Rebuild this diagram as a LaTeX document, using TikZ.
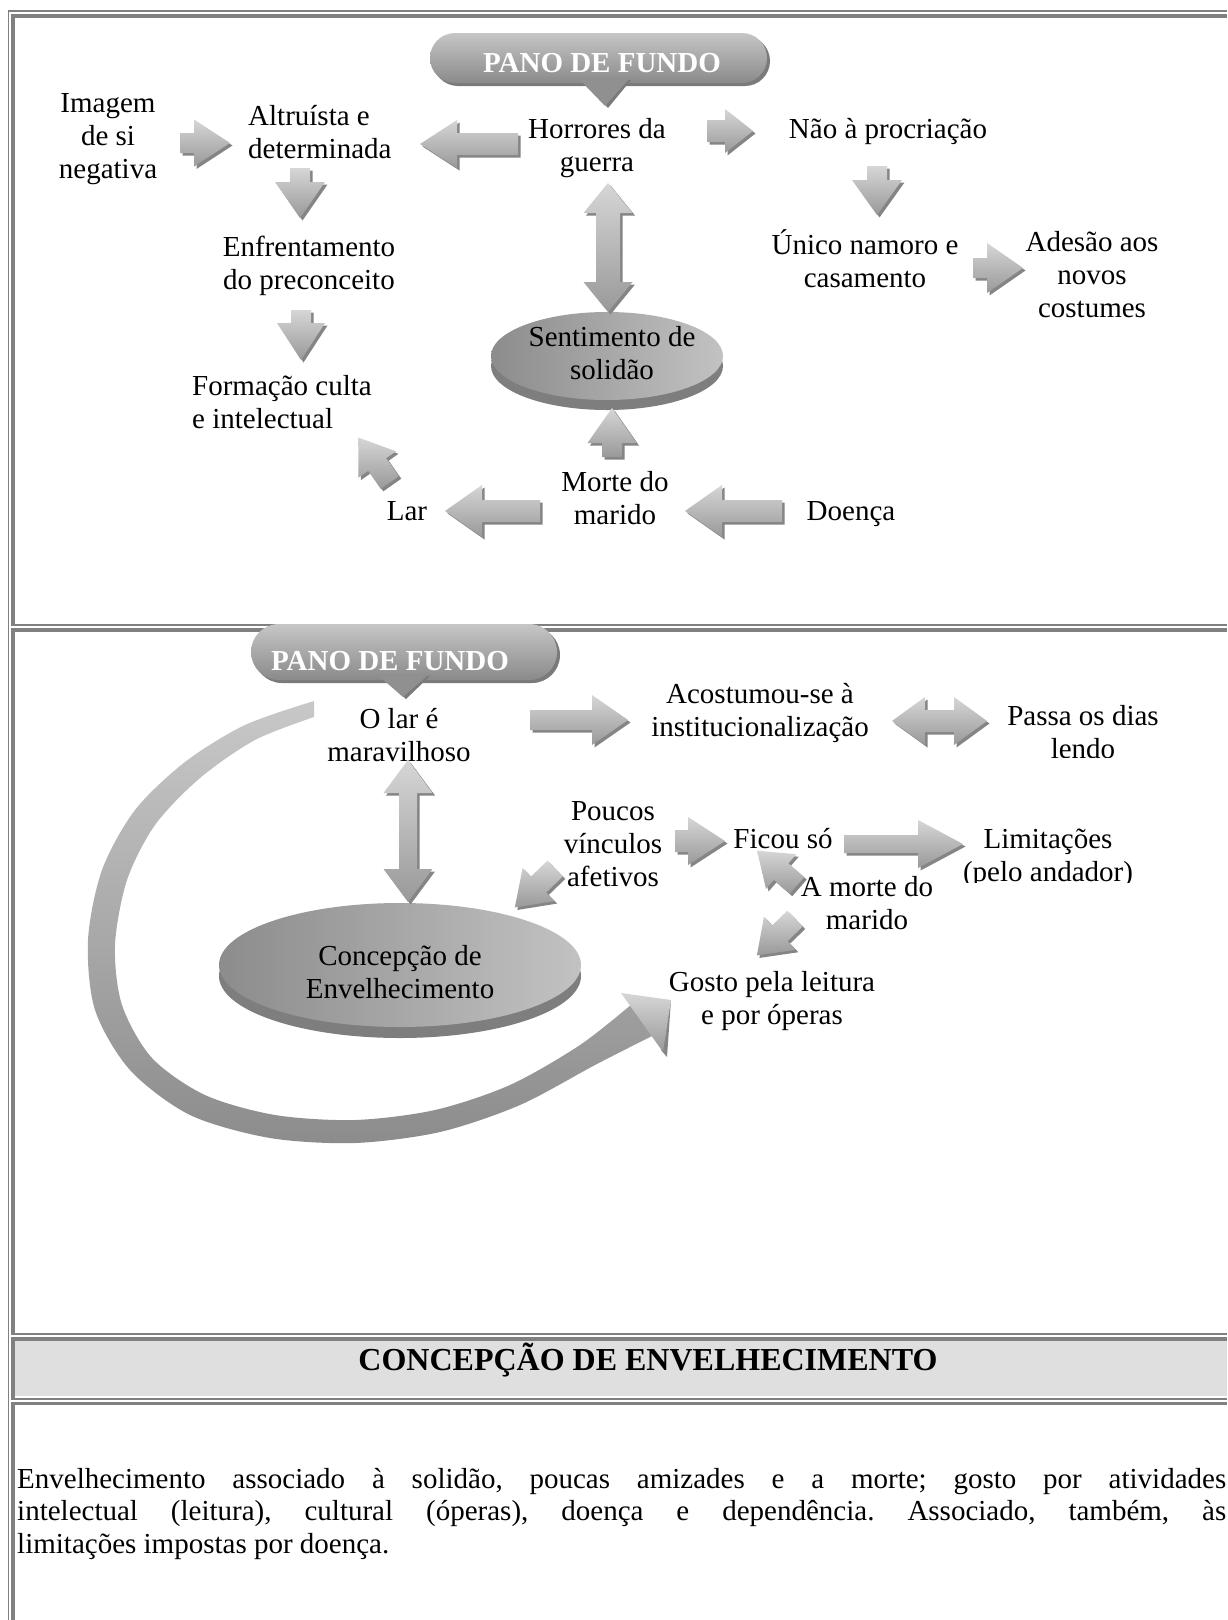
\documentclass[tikz,border=0pt]{standalone}
\usepackage{fontspec}
\setmainfont{Liberation Serif}
\usetikzlibrary{shapes.geometric,shapes.misc,shadows}

\definecolor{lineg}{HTML}{808080}
\definecolor{cellg}{HTML}{DFDFDF}
\definecolor{arrL}{HTML}{D6D6D6}
\definecolor{arrD}{HTML}{999999}
\definecolor{arrS}{HTML}{858585}
\definecolor{pillL}{HTML}{C6C6C6}
\definecolor{pillD}{HTML}{8A8A8A}
\definecolor{pillS}{HTML}{7A7A7A}
\definecolor{ellL}{HTML}{C2C2C2}
\definecolor{ellD}{HTML}{8C8C8C}
\definecolor{rimc}{HTML}{7E7E7E}

\tikzset{
  txt/.style={font=\fontsize{29}{33}\selectfont, align=center, inner sep=0pt,
    execute at begin node=\strut, execute at end node=\strut},
  panotxt/.style={font=\fontsize{29}{33}\selectfont\bfseries, text=white, anchor=base, inner sep=0pt},
  barfill/.style={top color=arrL, bottom color=arrD},
  pillshape/.style={rounded rectangle, inner sep=0pt, top color=pillL, bottom color=pillD,
    drop shadow={shadow xshift=3pt, shadow yshift=-3pt, fill=pillS, opacity=1}},
  ellshape/.style={ellipse, inner sep=0pt, left color=ellD, right color=ellL},
}

% block arrow: x, y, angle, length, head length, head width, shaft width
\newcommand\blkarrow[7]{%
  \fill[arrS, shift={(#1+2.5,#2+2.5)}, rotate=#3]
    ({-#4/2},{-#7/2}) -- ({#4/2-#5},{-#7/2}) -- ({#4/2-#5},{-#6/2}) -- ({#4/2},0)
    -- ({#4/2-#5},{#6/2}) -- ({#4/2-#5},{#7/2}) -- ({-#4/2},{#7/2}) -- cycle;
  \shade[barfill, shift={(#1,#2)}, rotate=#3]
    ({-#4/2},{-#7/2}) -- ({#4/2-#5},{-#7/2}) -- ({#4/2-#5},{-#6/2}) -- ({#4/2},0)
    -- ({#4/2-#5},{#6/2}) -- ({#4/2-#5},{#7/2}) -- ({-#4/2},{#7/2}) -- cycle;
}
\newcommand\dblarrow[7]{%
  \fill[arrS, shift={(#1+2.5,#2+2.5)}, rotate=#3]
    ({-#4/2},0) -- ({-#4/2+#5},{#6/2}) -- ({-#4/2+#5},{#7/2}) -- ({#4/2-#5},{#7/2})
    -- ({#4/2-#5},{#6/2}) -- ({#4/2},0) -- ({#4/2-#5},{-#6/2}) -- ({#4/2-#5},{-#7/2})
    -- ({-#4/2+#5},{-#7/2}) -- ({-#4/2+#5},{-#6/2}) -- cycle;
  \shade[barfill, shift={(#1,#2)}, rotate=#3]
    ({-#4/2},0) -- ({-#4/2+#5},{#6/2}) -- ({-#4/2+#5},{#7/2}) -- ({#4/2-#5},{#7/2})
    -- ({#4/2-#5},{#6/2}) -- ({#4/2},0) -- ({#4/2-#5},{-#6/2}) -- ({#4/2-#5},{-#7/2})
    -- ({-#4/2+#5},{-#7/2}) -- ({-#4/2+#5},{-#6/2}) -- cycle;
}

\begin{document}
\begin{tikzpicture}[x=1pt,y=-1pt]
\useasboundingbox (0,0) rectangle (1227,1620);
\fill[white] (0,0) rectangle (1227,1620);

% ---------- table borders ----------
\fill[lineg] (7.6,10.2) rectangle (9.4,1620);
\fill[lineg] (7.6,10.2) rectangle (1227,12);
% cell 1
\fill[lineg] (11.3,14) rectangle (1227,17.5);
\fill[lineg] (11.3,14) rectangle (15,625.5);
\fill[lineg] (15,623.8) rectangle (1227,625.5);
% cell 2
\fill[lineg] (11.3,628) rectangle (1227,631.5);
\fill[lineg] (11.3,628) rectangle (15,1334.5);
\fill[lineg] (15,1332.8) rectangle (1227,1334.5);
% cell 3 (header)
\fill[cellg] (15,1340.5) rectangle (1227,1395.5);
\fill[lineg] (11.3,1337.3) rectangle (1227,1340.7);
\fill[lineg] (11.3,1337.3) rectangle (15,1400);
\fill[lineg] (15,1398.3) rectangle (1227,1400);
% cell 4
\fill[lineg] (11.3,1401.5) rectangle (1227,1404.8);
\fill[lineg] (11.3,1401.5) rectangle (15,1620);

% ================= TOP SECTION =================
\node[pillshape, minimum width=337pt, minimum height=50pt] (pill1) at (598.5,58) {};
\fill[pillS] (583,80) -- (631,80) -- (608,108) -- cycle;
\fill[pillD!95!white] (580,80) -- (628,80) -- (605,106) -- cycle;
\node[panotxt] (pano1) at (602,72) {PANO DE FUNDO};

\fill[rimc] (607,366) ellipse [x radius=116, y radius=44];
\node[ellshape, minimum width=232pt, minimum height=88pt] (sentell) at (607,356) {};

\node[txt] (imagem) at (108,141.4) {Imagem\\de si\\negativa};
\node[txt, align=left, anchor=west] (altruista) at (248,137) {Altruísta e\\determinada};
\node[txt] (horrores) at (597,150) {Horrores da\\guerra};
\node[txt] (nao) at (888,131.4) {Não à procriação};
\node[txt] (unico) at (865,263) {Único namoro e\\casamento};
\node[txt] (adesao) at (1092,279.4) {Adesão aos\\novos\\costumes};
\node[txt] (enfrent) at (309,268) {Enfrentamento\\do preconceito};
\node[txt, align=left, anchor=west] (formacao) at (192,407) {Formação culta\\e intelectual};
\node[txt] (sentimento) at (612,358) {Sentimento de\\solidão};
\node[txt] (morte) at (615,503) {Morte do\\marido};
\node[txt] (lar) at (407,513.4) {Lar};
\node[txt] (doenca) at (851,513.4) {Doença};

\blkarrow{205}{143}{0}{50}{36}{47}{20}
\blkarrow{469}{144}{180}{98}{37}{48}{22}
\blkarrow{730}{131}{0}{46}{28}{44}{22}
\dblarrow{608}{247.5}{90}{129}{30}{49}{24}
\blkarrow{300}{193}{-90}{50}{36}{50}{20}
\blkarrow{301}{335}{-90}{50}{37}{48}{20}
\blkarrow{877}{190.5}{-90}{49}{35}{50}{20}
\blkarrow{998}{268}{0}{50}{36}{50}{20}
\blkarrow{612}{432.5}{90}{49}{35}{49}{20}
\blkarrow{492.5}{511}{180}{95}{37}{52}{22}
\blkarrow{733.5}{511}{180}{97}{37}{52}{22}
\blkarrow{374}{460}{125}{55}{33}{46}{22}

% ================= MIDDLE SECTION =================
% big curved arrow
\shade[top color=ellL!90!white, bottom color=ellD]
  plot[smooth] coordinates {(314,701) (245,725) (185,762) (135,810) (102,870) (88,940)
    (95,1010) (130,1070) (190,1115) (270,1138) (355,1143) (440,1132) (520,1105) (595,1065) (652,1036)}
  -- plot[smooth] coordinates {(632,1004) (580,1045) (510,1085) (435,1110) (355,1120)
    (275,1115) (205,1095) (152,1058) (122,1005) (115,945) (127,880) (155,825) (200,778) (255,740) (314,717)}
  -- cycle;
\fill[arrS] (671,1000) -- (667,1057) -- (661,1050) -- cycle;
\shade[top color=arrL, bottom color=arrD] (621,993) -- (671,1000) -- (663,1052) -- cycle;

\node[pillshape, minimum width=306pt, minimum height=56pt] (pill2) at (404,652) {};
\fill[pillS] (382,676) -- (430,676) -- (406,699) -- cycle;
\fill[pillD!95!white] (379,676) -- (427,676) -- (403,697) -- cycle;
\node[panotxt] (pano2) at (390,670) {PANO DE FUNDO};

\fill[rimc] (400,976) ellipse [x radius=181, y radius=62];
\node[ellshape, minimum width=362pt, minimum height=124pt] (concell) at (400,965) {};

\node[txt] (olar) at (399,740) {O lar é\\maravilhoso};
\node[txt] (acostumou) at (760,715) {Acostumou-se à\\institucionalização};
\begin{scope}
  \clip (980,690) rectangle (1190,757);
  \node[txt] (passa) at (1083,737) {Passa os dias\\lendo};
\end{scope}
\node[txt] (poucos) at (613,849.4) {Poucos\\vínculos\\afetivos};
\node[txt] (ficou) at (783,841.4) {Ficou só};
\begin{scope}
  \clip (950,815) rectangle (1150,882);
  \node[txt] (limit) at (1048,860) {Limitações\\(pelo andador)};
\end{scope}
\node[txt] (amorte) at (867,908) {A morte do\\marido};
\node[txt] (gosto) at (772,1003) {Gosto pela leitura\\e por óperas};
\node[txt] (concep) at (400,977) {Concepção de\\Envelhecimento};

\blkarrow{579}{720}{0}{98}{36}{50}{20}
\dblarrow{939.5}{721}{0}{95}{33}{48}{22}
\blkarrow{700}{841}{0}{50}{37}{48}{22}
\blkarrow{903.5}{844}{0}{119}{45}{48}{18}
\blkarrow{777}{868}{139}{53}{32}{46}{22}
\blkarrow{776}{937}{224}{53}{32}{46}{22}
\blkarrow{535}{888}{224}{56}{33}{46}{22}
\dblarrow{408}{831}{90}{142}{33}{49}{18}

% ================= BOTTOM =================
\node[font=\fontsize{32}{36}\selectfont\bfseries, anchor=base, inner sep=0pt] (header) at (648,1370) {CONCEPÇÃO DE ENVELHECIMENTO};
\node[font=\fontsize{29}{32.5}\selectfont\frenchspacing, text width=1209pt, align=justify, inner sep=0pt,
  anchor=north west, execute at begin node=\strut] (para) at (17,1465.2)
  {Envelhecimento associado à solidão, poucas amizades e a morte; gosto por atividades\linebreak
   intelectual (leitura), cultural (óperas), doença e dependência. Associado, também, às\linebreak
   limitações impostas por doença.};
\end{tikzpicture}
\end{document}
